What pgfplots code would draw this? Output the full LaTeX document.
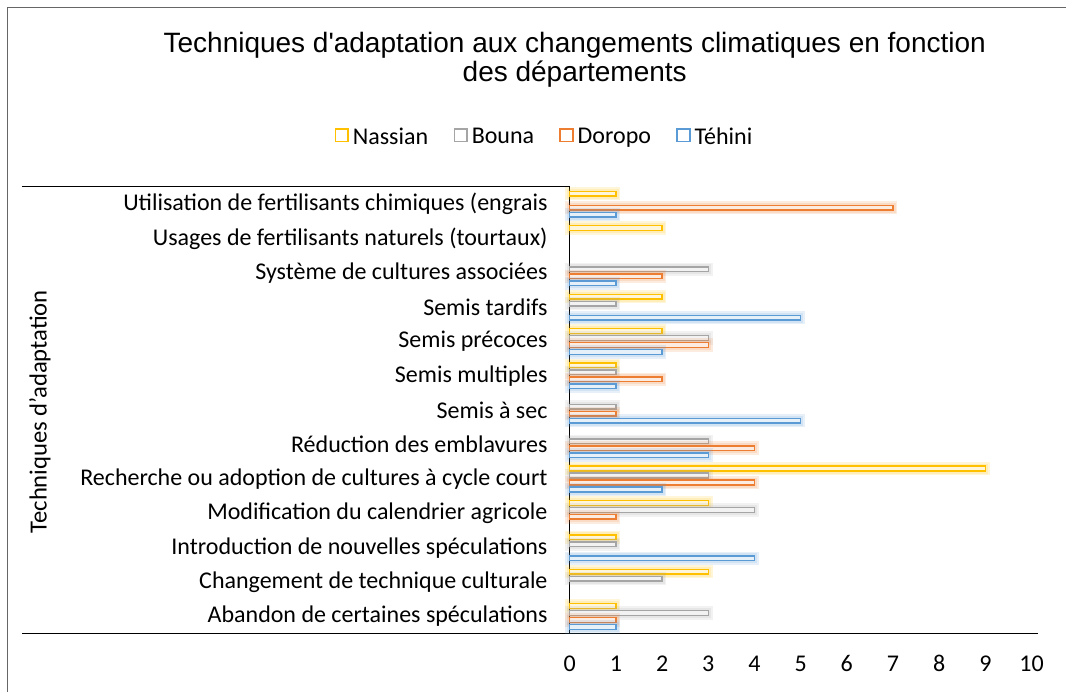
\documentclass[border=0pt]{standalone}
\usepackage{pgfplots}
\pgfplotsset{compat=1.18}
\usepackage{fontspec}
\setmainfont{Carlito}
\newfontfamily\titlefont{Liberation Sans}
\definecolor{cN}{HTML}{FFC000}
\definecolor{cB}{HTML}{A5A5A5}
\definecolor{cD}{HTML}{ED7D31}
\definecolor{cT}{HTML}{5B9BD5}
\pgfplotsset{mybar/.style={xbar, bar width=3.5pt, draw=#1, fill=#1!15, line width=1.1pt,
  preaction={draw=#1, draw opacity=0.15, line width=6.5pt},
  preaction={draw=#1, draw opacity=0.15, line width=4pt}}}
\begin{document}
\begin{tikzpicture}[x=0.75pt,y=0.75pt]
\path (0,0) rectangle (1066,692);
\draw[black!60, line width=0.75pt] (8,0) -- (8,684) -- (1066,684);
\node[font=\titlefont\fontsize{21}{21.5}\selectfont, align=center] at (575,632) {Techniques d'adaptation aux changements climatiques en fonction\\des départements};
\draw[black, line width=0.9pt] (22,505) -- (570,505);
\draw[black, line width=0.9pt] (22,58) -- (1038,58);
\node[rotate=90, font=\fontsize{18.5}{18}\selectfont] at (40,280) {Techniques d'adaptation};
\begin{axis}[
  at={(427.5pt,43.5pt)}, anchor=south west,
  scale only axis, width=346.5pt, height=335.25pt,
  xmin=0, xmax=10, ymin=-0.5, ymax=12.5,
  xtick={0,...,10}, ytick={0,...,12},
  yticklabels={Abandon de certaines spéculations, Changement de technique culturale, Introduction de nouvelles spéculations, Modification du calendrier agricole, Recherche ou adoption de cultures à cycle court, Réduction des emblavures, Semis à sec, Semis multiples, Semis précoces, Semis tardifs, Système de cultures associées, Usages de fertilisants naturels (tourtaux), Utilisation de fertilisants chimiques (engrais},
  axis x line*=bottom, x axis line style={draw=none},
  axis y line*=left, y axis line style={line width=0.9pt, -},
  major tick length=0pt,
  tick label style={font=\fontsize{18}{18}\selectfont},
  /pgf/number format/assume math mode=true,
  yticklabel style={anchor=east, inner sep=0pt, xshift=-16.5pt},
  xticklabel style={anchor=base, inner sep=0pt, yshift=-28.5pt},
  legend style={at={(-0.054,1.112)}, anchor=center, draw=none, legend columns=4, font=\fontsize{18}{18}\selectfont,
    /tikz/every even column/.append style={column sep=17pt},
    /tikz/every odd column/.append style={column sep=1pt}},
  legend image code/.code={\draw[#1] (0pt,-3.5pt) rectangle (9.5pt,6pt);},
  clip=false,
]
\addplot[mybar=cN, bar shift=7.875pt, forget plot] coordinates {(1,0) (3,1) (1,2) (3,3) (9,4) (1,7) (2,8) (2,9) (2,11) (1,12)};
\addplot[mybar=cB, bar shift=2.625pt, forget plot] coordinates {(3,0) (2,1) (1,2) (4,3) (3,4) (3,5) (1,6) (1,7) (3,8) (1,9) (3,10)};
\addplot[mybar=cD, bar shift=-2.625pt, forget plot] coordinates {(1,0) (1,3) (4,4) (4,5) (1,6) (2,7) (3,8) (2,10) (7,12)};
\addplot[mybar=cT, bar shift=-7.875pt, forget plot] coordinates {(1,0) (4,2) (2,4) (3,5) (5,6) (1,7) (2,8) (5,9) (1,10) (1,12)};
\addlegendimage{draw=cN, fill=white, line width=1.2pt}\addlegendentry{Nassian}
\addlegendimage{draw=cB, fill=white, line width=1.2pt}\addlegendentry{Bouna}
\addlegendimage{draw=cD, fill=white, line width=1.2pt}\addlegendentry{Doropo}
\addlegendimage{draw=cT, fill=white, line width=1.2pt}\addlegendentry{Téhini}
\end{axis}
\end{tikzpicture}
\end{document}
